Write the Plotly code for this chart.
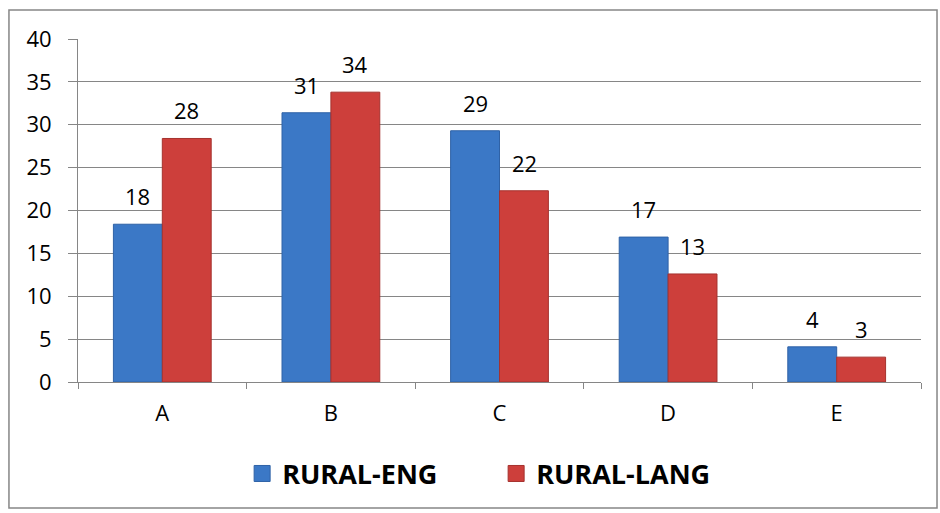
import plotly.graph_objects as go

categories = ["A", "B", "C", "D", "E"]
rural_eng = [18.4, 31.4, 29.3, 16.9, 4.1]
rural_lang = [28.4, 33.8, 22.3, 12.6, 2.9]
y_ticks = [0, 5, 10, 15, 20, 25, 30, 35, 40]

FONT = "Open Sans"
BLUE = "#3B78C6"
RED = "#CD3F3B"
BAR_HALF_PX = 24.5  # half bar width in px, for label offset

fig = go.Figure()
fig.add_trace(go.Bar(
    name="RURAL-ENG", x=categories, y=rural_eng,
    marker=dict(color=BLUE, line=dict(color="#2F62A6", width=1)),
    showlegend=False,
))
fig.add_trace(go.Bar(
    name="RURAL-LANG", x=categories, y=rural_lang,
    marker=dict(color=RED, line=dict(color="#A5322E", width=1)),
    showlegend=False,
))
for nm, col, lc in [("RURAL-ENG", BLUE, "#2F62A6"), ("RURAL-LANG", RED, "#A5322E")]:
    fig.add_trace(go.Scatter(
        name=nm, x=[None], y=[None], mode="markers",
        marker=dict(symbol="square", size=20, color=col, line=dict(color=lc, width=1)),
        showlegend=True,
    ))

annotations = []
for series, shift in [(rural_eng, -BAR_HALF_PX), (rural_lang, BAR_HALF_PX)]:
    for c, v in zip(categories, series):
        annotations.append(dict(
            x=c, y=v, xref="x", yref="y", text=f"{v:.0f}", showarrow=False,
            xanchor="center", yanchor="bottom", xshift=shift, yshift=11,
            font=dict(family=FONT, size=22, color="#000000"),
        ))

fig.update_layout(
    width=940, height=513,
    margin=dict(l=78, r=19, t=39, b=131),
    paper_bgcolor="white", plot_bgcolor="white",
    barmode="group", bargap=0.42, bargroupgap=0,
    font=dict(family=FONT, size=22, color="#000000"),
    showlegend=True,
    legend=dict(
        orientation="h", x=0.496, xanchor="center", y=-0.268, yanchor="middle",
        font=dict(family=FONT, size=27, color="#000000", weight="bold"),
        entrywidth=209, itemwidth=30,
    ),
    xaxis=dict(
        showgrid=False, showline=True, linecolor="#868686", linewidth=1,
        ticks="outside", tickson="boundaries", ticklen=6, tickcolor="#868686",
        tickfont=dict(family=FONT, size=22, color="#000000"),
        ticklabelstandoff=12,
    ),
    yaxis=dict(
        range=[0, 40], tickvals=y_ticks, showgrid=True, gridcolor="#868686", gridwidth=1,
        showline=True, linecolor="#868686", linewidth=1,
        ticks="outside", ticklen=9, tickcolor="#868686",
        tickfont=dict(family=FONT, size=22, color="#000000"),
        ticklabelstandoff=12, zeroline=False,
    ),
    annotations=annotations,
    shapes=[dict(
        type="rect", xref="paper", yref="paper",
        x0=-0.0819, x1=1.019, y0=-0.367, y1=1.0845,
        line=dict(color="#868686", width=1.5), fillcolor="rgba(0,0,0,0)", layer="below",
    )],
)

fig.write_html("out.html", config={"displayModeBar": False},
               post_script="document.body.style.margin='0';document.body.style.overflow='hidden';")
